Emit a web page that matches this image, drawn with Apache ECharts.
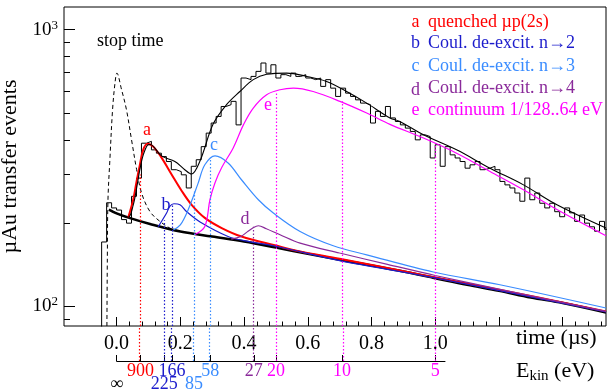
<!DOCTYPE html>
<html><head><meta charset="utf-8">
<script src="https://cdn.jsdelivr.net/npm/echarts@6/dist/echarts.min.js"></script>
<style>html,body{margin:0;padding:0;background:#fff}#c{width:608px;height:391px}</style>
</head><body><div id="c"></div>
<script>
const FONT = 'Liberation Serif';
const colors = {a:'#ff0000', b:'#1c1ccc', c:'#3a8cff', d:'#8a2a9a', e:'#ff00ff', k:'#000000'};

// histogram: bins of 1/64 us starting at -3/64 us
const histBinStart = -3/64;
const histBinWidth = 1/64;
const histCounts = [171,237,227,223,206,200,250,291,389,395,368,358,348,334,312,307,299,268,321,339,
  378,423,460,486,528,536,551,453,669,660,678,707,758,697,747,669,688,678,697,678,
  688,669,660,669,624,660,615,574,615,590,574,558,543,536,460,507,486,528,480,466,
  453,441,429,400,417,411,344,384,321,378,353,344,334,316,325,334,312,316,321,312,
  283,275,268,257,240,291,243,257,236,227,236,220,211,227,218,203,214,200,194,187,203,190];

// fitted curves [time (us), events]
const bgCurve = [[-0.024,224],[0,217],[0.04,209],[0.105,198.6],[0.2,186.6],[0.3,179],[0.4,171.8],[0.5,163.4],[0.6,155],[0.7,147.5],[0.8,140.6],[0.9,133.8],[1.0,126.6],[1.1,119.8],[1.2,114],[1.3,107.8],[1.4,102.9],[1.536,95.1]];
const curveA = [[0.0364,209],[0.0521,243],[0.0628,283],[0.0732,325],[0.0835,368],[0.0973,387],[0.115,378],[0.141,345],[0.1727,300],[0.204,262],[0.2355,233],[0.277,209],[0.33,192],[0.392,179],[0.5,166],[0.576,158],[0.7,148.7],[1.0,127.3],[1.2,115],[1.536,96]];
const curveB = [[0.1306,194],[0.157,217.5],[0.167,230],[0.18,235],[0.199,233],[0.22,220],[0.262,202],[0.35,179],[0.4,173],[0.5,165],[0.7,146.4],[1.0,126.8],[1.536,95.5]];
const curveC = [[0.178,189],[0.2,197],[0.225,224],[0.256,279],[0.277,325],[0.309,350],[0.35,330],[0.392,287],[0.445,243],[0.492,217.6],[0.576,186.6],[0.68,165.7],[0.785,153.7],[0.994,133.2],[1.203,119.8],[1.536,98.7]];
const curveD = [[0.36,175],[0.39,179],[0.41,186],[0.43,193],[0.445,195.7],[0.47,191],[0.513,181.6],[0.576,169.4],[0.7,156],[0.85,142],[1.0,129.4],[1.2,115.5],[1.536,96]];
const curveE = [[0.246,182],[0.277,194.5],[0.293,243],[0.309,280],[0.33,318],[0.366,374],[0.398,453],[0.429,521],[0.471,582],[0.513,607],[0.555,615],[0.617,598],[0.701,551],[0.785,500],[0.858,455],[0.963,406],[1.067,358],[1.172,307.5],[1.277,264],[1.382,224],[1.536,180]];
const curveTotal = [[-0.024,224],[0,217],[0.036,210],[0.052,232],[0.063,268],[0.073,312],[0.0835,352],[0.097,383],[0.105,385],[0.141,350],[0.183,334],[0.214,312],[0.235,301],[0.262,336],[0.303,456],[0.345,536],[0.387,598],[0.429,660],[0.471,690],[0.534,697],[0.597,678],[0.659,650],[0.722,598],[0.785,543],[0.858,480],[0.889,466],[0.963,417],[1.067,368],[1.172,316],[1.277,275],[1.382,233],[1.536,192]];
const stopTime = [[-0.031,60],[-0.029,150],[-0.027,243],[-0.021,339],[-0.0126,514],[-0.005,641],[0.001,697],[0.0157,607],[0.031,514],[0.047,400],[0.063,312],[0.0785,257],[0.105,220],[0.136,203],[0.167,192],[0.19,188]];

// kinetic energy scale: E * t^2 = const (eV us^2)
const E_T2 = 5.0;
const eTickLabels = ['∞', 900, 225, 166, 85, 58, 27, 20, 10, 5];
const eTickComp   = ['k','a','b','b','c','c','d','e','e','e'];
const eTickRow    = [2, 1, 2, 1, 2, 1, 1, 1, 1, 1];
const eTickTop    = [null, 300, 205, 233, 264, 339, 194, 590, 551, 390];

// axis ticks
const xTickLabels = [0, 0.2, 0.4, 0.6, 0.8, 1.0];
const xMajor = [0, 0.2, 0.4, 0.6, 0.8, 1.0, 1.2, 1.4];
const xMinor = [];
for (let i = 0; i <= 38; i++) xMinor.push(+(i * 0.04).toFixed(2));
const yMajor = [100, 1000];
const yMinor = [90, 200, 300, 400, 500, 600, 700, 800, 900];

const tOf = E => (E === '∞' ? 0 : Math.sqrt(E_T2 / E));
const eT = eTickLabels.map(tOf);

const histData = [[histBinStart, 1]];
histCounts.forEach((v, i) => histData.push([histBinStart + i * histBinWidth, v]));
histData.push([histBinStart + histCounts.length * histBinWidth, histCounts[histCounts.length - 1]]);

function upperDots(comp) {
  const out = [];
  eTickLabels.forEach((E, i) => {
    if (eTickComp[i] === comp && eTickTop[i] != null) {
      out.push([{coord: [eT[i], 85]}, {coord: [eT[i], eTickTop[i]]}]);
    }
  });
  return out;
}
function mk(comp) {
  return {silent: true, symbol: ['none', 'none'], label: {show: false},
    lineStyle: {type: [1.5, 2], width: 1.2, color: colors[comp]}, data: upperDots(comp)};
}
const lowerDots = [];
eTickLabels.forEach((E, i) => { if (eTickTop[i] != null) lowerDots.push({xAxis: eT[i], lineStyle: {color: colors[eTickComp[i]]}}); });

function eLabel(v) {
  for (let i = 0; i < eT.length; i++) if (Math.abs(eT[i] - v) < 1e-6) return '{' + eTickComp[i] + '|' + eTickLabels[i] + '}';
  return '';
}
const eRich = {};
Object.keys(colors).forEach(k => eRich[k] = {color: colors[k], fontFamily: FONT, fontSize: 18});

function curve(data, color, width, extra) {
  return Object.assign({type: 'line', xAxisIndex: 0, yAxisIndex: 0, data: data, showSymbol: false, smooth: 0.35,
    lineStyle: {color: color, width: width}, silent: true}, extra || {});
}

const txt = (x, y, text, color, size, align) => ({type: 'text', x: x, y: y, silent: true,
  style: {text: text, fill: color, font: size + 'px "' + FONT + '"', align: align || 'left', verticalAlign: 'middle'}});

const legendRows = [
  ['a', 'quenched µp(2s)', 'a', 22],
  ['b', 'Coul. de-excit. n→2', 'b', 43.5],
  ['c', 'Coul. de-excit. n→3', 'c', 66],
  ['d', 'Coul. de-excit. n→4', 'd', 88],
  ['e', 'continuum 1/128..64 eV', 'e', 110]
];
const graphics = [];
legendRows.forEach(r => {
  graphics.push(txt(415.5, r[3] + (r[0] === 'd' ? 2 : 0), r[0], colors[r[2]], 18, 'center'));
  graphics.push(txt(428, r[3], r[1], colors[r[2]], 18));
});
graphics.push(txt(147, 130, 'a', colors.a, 18, 'center'));
graphics.push(txt(166, 205, 'b', colors.b, 18, 'center'));
graphics.push(txt(214, 145, 'c', colors.c, 18, 'center'));
graphics.push(txt(245, 219, 'd', colors.d, 18, 'center'));
graphics.push(txt(268, 105, 'e', colors.e, 18, 'center'));
graphics.push(txt(97, 41, 'stop time', '#000', 18));
graphics.push(txt(516, 338, 'time (µs)', '#000', 22));
graphics.push({type: 'text', x: 516, y: 371, silent: true,
  style: {text: '{m|E}{s|kin}{m| (eV)}', verticalAlign: 'middle', align: 'left',
    rich: {m: {fontFamily: FONT, fontSize: 22, fill: '#000'}, s: {fontFamily: FONT, fontSize: 15, fill: '#000', padding: [10, 0, 0, 0]}}}});

const chart = echarts.init(document.getElementById('c'), null, {renderer: 'canvas', width: 608, height: 391});
chart.setOption({
  animation: false,
  backgroundColor: '#fff',
  grid: [
    {left: 64, right: 2, top: 7, bottom: 65, show: true, borderColor: '#000', borderWidth: 1, backgroundColor: 'transparent', containLabel: false, outerBoundsMode: 'none'},
    {left: 116.7, right: 163, top: 326, bottom: 30, show: false, containLabel: false, outerBoundsMode: 'none'}
  ],
  xAxis: [
    {gridIndex: 0, type: 'value', min: -0.165, max: 1.536, position: 'bottom',
      axisLine: {show: false, onZero: false}, splitLine: {show: false},
      axisTick: {show: true, inside: true, length: 9, customValues: xMajor, lineStyle: {color: '#000', width: 1}},
      axisLabel: {show: true, customValues: xTickLabels, formatter: v => v.toFixed(1), margin: 8, color: '#000', fontFamily: FONT, fontSize: 20}},
    {gridIndex: 0, type: 'value', min: -0.165, max: 1.536, position: 'bottom',
      axisLine: {show: false, onZero: false}, splitLine: {show: false},
      axisTick: {show: true, inside: true, length: 4.5, customValues: xMinor, lineStyle: {color: '#000', width: 1}},
      axisLabel: {show: false}},
    {gridIndex: 1, type: 'value', min: 0, max: 1.0308, position: 'bottom',
      axisLine: {show: true, onZero: false, lineStyle: {color: '#000', width: 1}}, splitLine: {show: false},
      axisTick: {show: true, inside: true, length: 6, customValues: eT, lineStyle: {color: '#000', width: 1}},
      axisLabel: {show: true, customValues: eT.filter((t, i) => eTickRow[i] === 1), formatter: eLabel, margin: 1, rich: eRich}},
    {gridIndex: 1, type: 'value', min: 0, max: 1.0308, position: 'bottom',
      axisLine: {show: false, onZero: false}, splitLine: {show: false}, axisTick: {show: false},
      axisLabel: {show: true, customValues: eT.filter((t, i) => eTickRow[i] === 2), formatter: eLabel, margin: 14, rich: eRich}}
  ],
  yAxis: [
    {gridIndex: 0, type: 'log', logBase: 10, min: 85, max: 1208, position: 'left',
      axisLine: {show: false, onZero: false}, splitLine: {show: false}, minorTick: {show: false},
      axisTick: {show: true, inside: true, length: 11, customValues: yMajor, lineStyle: {color: '#000', width: 1}},
      axisLabel: {show: true, customValues: yMajor, margin: 6,
        formatter: v => '{b|10}{s|' + Math.round(Math.log10(v)) + '}',
        rich: {b: {fontFamily: FONT, fontSize: 19, color: '#000', lineHeight: 22}, s: {fontFamily: FONT, fontSize: 13, color: '#000', verticalAlign: 'top', lineHeight: 22}}},
      name: 'µAu transfer events', nameLocation: 'middle', nameGap: 36,
      nameTextStyle: {fontFamily: FONT, fontSize: 22, color: '#000'}},
    {gridIndex: 0, type: 'log', logBase: 10, min: 85, max: 1208, position: 'left',
      axisLine: {show: false, onZero: false}, splitLine: {show: false},
      axisTick: {show: true, inside: true, length: 6, customValues: yMinor, lineStyle: {color: '#000', width: 1}},
      axisLabel: {show: false}},
    {gridIndex: 1, type: 'value', min: 0, max: 1, show: false}
  ],
  graphic: graphics,
  series: [
    {type: 'line', xAxisIndex: 0, yAxisIndex: 0, data: histData, step: 'end', showSymbol: false, silent: true,
      lineStyle: {color: '#000', width: 1}},
    curve(stopTime, '#000', 1, {lineStyle: {color: '#000', width: 1, type: [4, 3]}}),
    curve(bgCurve, '#000', 2.6),
    curve(curveA, colors.a, 2, {markLine: mk('a')}),
    curve(curveB, colors.b, 1.2, {markLine: mk('b')}),
    curve(curveC, colors.c, 1.2, {markLine: mk('c')}),
    curve(curveD, colors.d, 1.2, {markLine: mk('d')}),
    curve(curveE, colors.e, 1.2, {markLine: mk('e')}),
    curve(curveTotal, '#000', 1.1),
    {type: 'line', xAxisIndex: 2, yAxisIndex: 2, data: [], silent: true,
      markLine: {silent: true, symbol: ['none', 'none'], label: {show: false},
        lineStyle: {type: [1.5, 2], width: 1.2}, data: lowerDots}}
  ]
});
</script></body></html>
